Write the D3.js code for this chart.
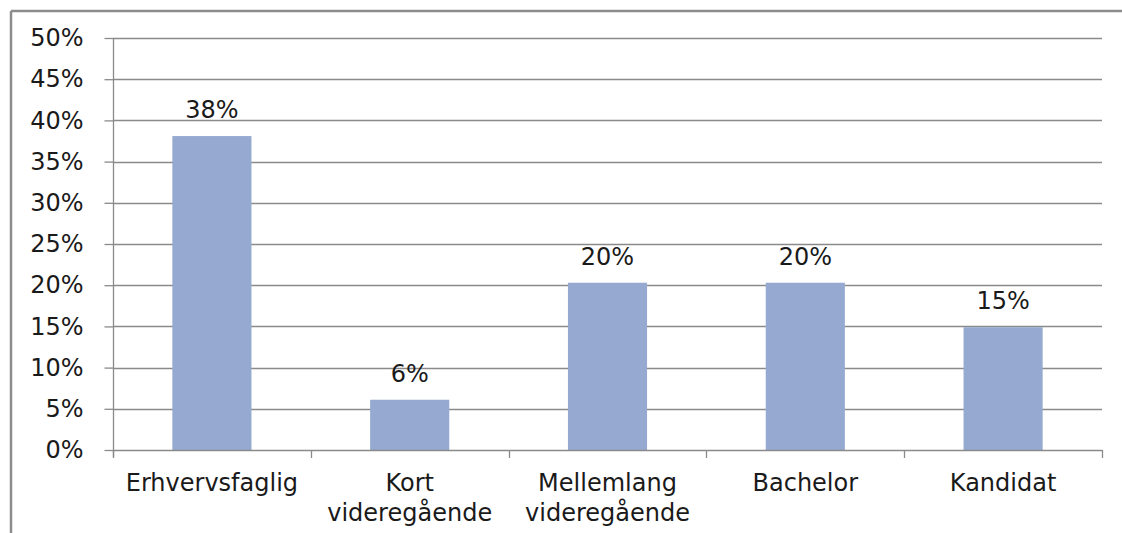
<!DOCTYPE html>
<html>
<head>
<meta charset="utf-8">
<script src="https://cdn.jsdelivr.net/npm/d3@7/dist/d3.min.js"></script>
<style>
  html, body { margin: 0; padding: 0; background: #fff; }
  svg { display: block; }
  text { font-family: "DejaVu Sans", sans-serif; fill: #1a1a1a; }
</style>
</head>
<body>
<svg id="chart" width="1122" height="533"></svg>
<script>
const categories = ["Erhvervsfaglig", "Kort\nvideregående", "Mellemlang\nvideregående", "Bachelor", "Kandidat"];
const values = [0.381, 0.061, 0.203, 0.203, 0.149];
const valueLabels = ["38%", "6%", "20%", "20%", "15%"];
const yTicks = [0, 0.05, 0.10, 0.15, 0.20, 0.25, 0.30, 0.35, 0.40, 0.45, 0.50];

const svg = d3.select("#chart");
const W = 1122, H = 533;
const margin = { left: 113, right: 20, top: 38, bottom: 83 };
const fontSize = 24;
const gridColor = "#8a8a8a";

// outer chart border (only top and left visible)
svg.append("line").attr("x1", 11).attr("x2", W).attr("y1", 11).attr("y2", 11)
  .attr("stroke", "#8c8c8c").attr("stroke-width", 2.5);
svg.append("line").attr("x1", 11).attr("x2", 11).attr("y1", 11).attr("y2", H)
  .attr("stroke", "#8c8c8c").attr("stroke-width", 2.5);

const x = d3.scaleBand().domain(categories).range([margin.left, 1102]).paddingInner(0.6).paddingOuter(0.3);
const y = d3.scaleLinear().domain([0, 0.5]).range([450, margin.top]);

// gridlines
svg.append("g").selectAll("line").data(yTicks.slice(1)).join("line")
  .attr("x1", margin.left).attr("x2", 1102)
  .attr("y1", d => Math.round(y(d)) + 0.5).attr("y2", d => Math.round(y(d)) + 0.5)
  .attr("stroke", gridColor).attr("stroke-width", 1.3);

// y axis
const yAxis = d3.axisLeft(y).tickValues(yTicks).tickFormat(d3.format(".0%")).tickSize(9).tickPadding(21);
const gy = svg.append("g").attr("transform", `translate(${margin.left + 0.5},0)`).call(yAxis);
gy.select(".domain").attr("stroke", gridColor).attr("stroke-width", 1.3).attr("d", `M0,${y(0.5)}V${y(0) + 7}`);
gy.selectAll(".tick line").attr("stroke", gridColor).attr("stroke-width", 1.3);
gy.selectAll(".tick text").attr("font-size", fontSize).attr("font-family", "DejaVu Sans").attr("fill", "#1a1a1a");

// bars
svg.append("g").selectAll("rect").data(values).join("rect")
  .attr("x", (d, i) => x(categories[i]))
  .attr("width", x.bandwidth())
  .attr("y", d => y(d))
  .attr("height", d => y(0) - y(d))
  .attr("fill", "#95a9d1");

// x axis
const xEdges = d3.range(categories.length + 1).map(i => margin.left + i * ((1102 - margin.left) / categories.length));
svg.append("line").attr("x1", margin.left).attr("x2", 1102).attr("y1", 450.5).attr("y2", 450.5)
  .attr("stroke", gridColor).attr("stroke-width", 1.3);
svg.append("g").selectAll("line").data(xEdges).join("line")
  .attr("x1", d => Math.round(d) + 0.5).attr("x2", d => Math.round(d) + 0.5)
  .attr("y1", 450).attr("y2", 458)
  .attr("stroke", gridColor).attr("stroke-width", 1.3);

// category labels
svg.append("g").selectAll("text").data(categories).join("text")
  .attr("text-anchor", "middle")
  .attr("font-size", fontSize)
  .attr("transform", d => `translate(${x(d) + x.bandwidth() / 2},491)`)
  .each(function (d) {
    const lines = d.split("\n");
    d3.select(this).selectAll("tspan").data(lines).join("tspan")
      .attr("x", 0).attr("dy", (l, i) => i === 0 ? 0 : 30).text(l => l);
  });

// value labels
svg.append("g").selectAll("text").data(values).join("text")
  .attr("text-anchor", "middle")
  .attr("font-size", fontSize)
  .attr("x", (d, i) => x(categories[i]) + x.bandwidth() / 2)
  .attr("y", d => y(d) - 18)
  .text((d, i) => valueLabels[i]);
</script>
</body>
</html>
